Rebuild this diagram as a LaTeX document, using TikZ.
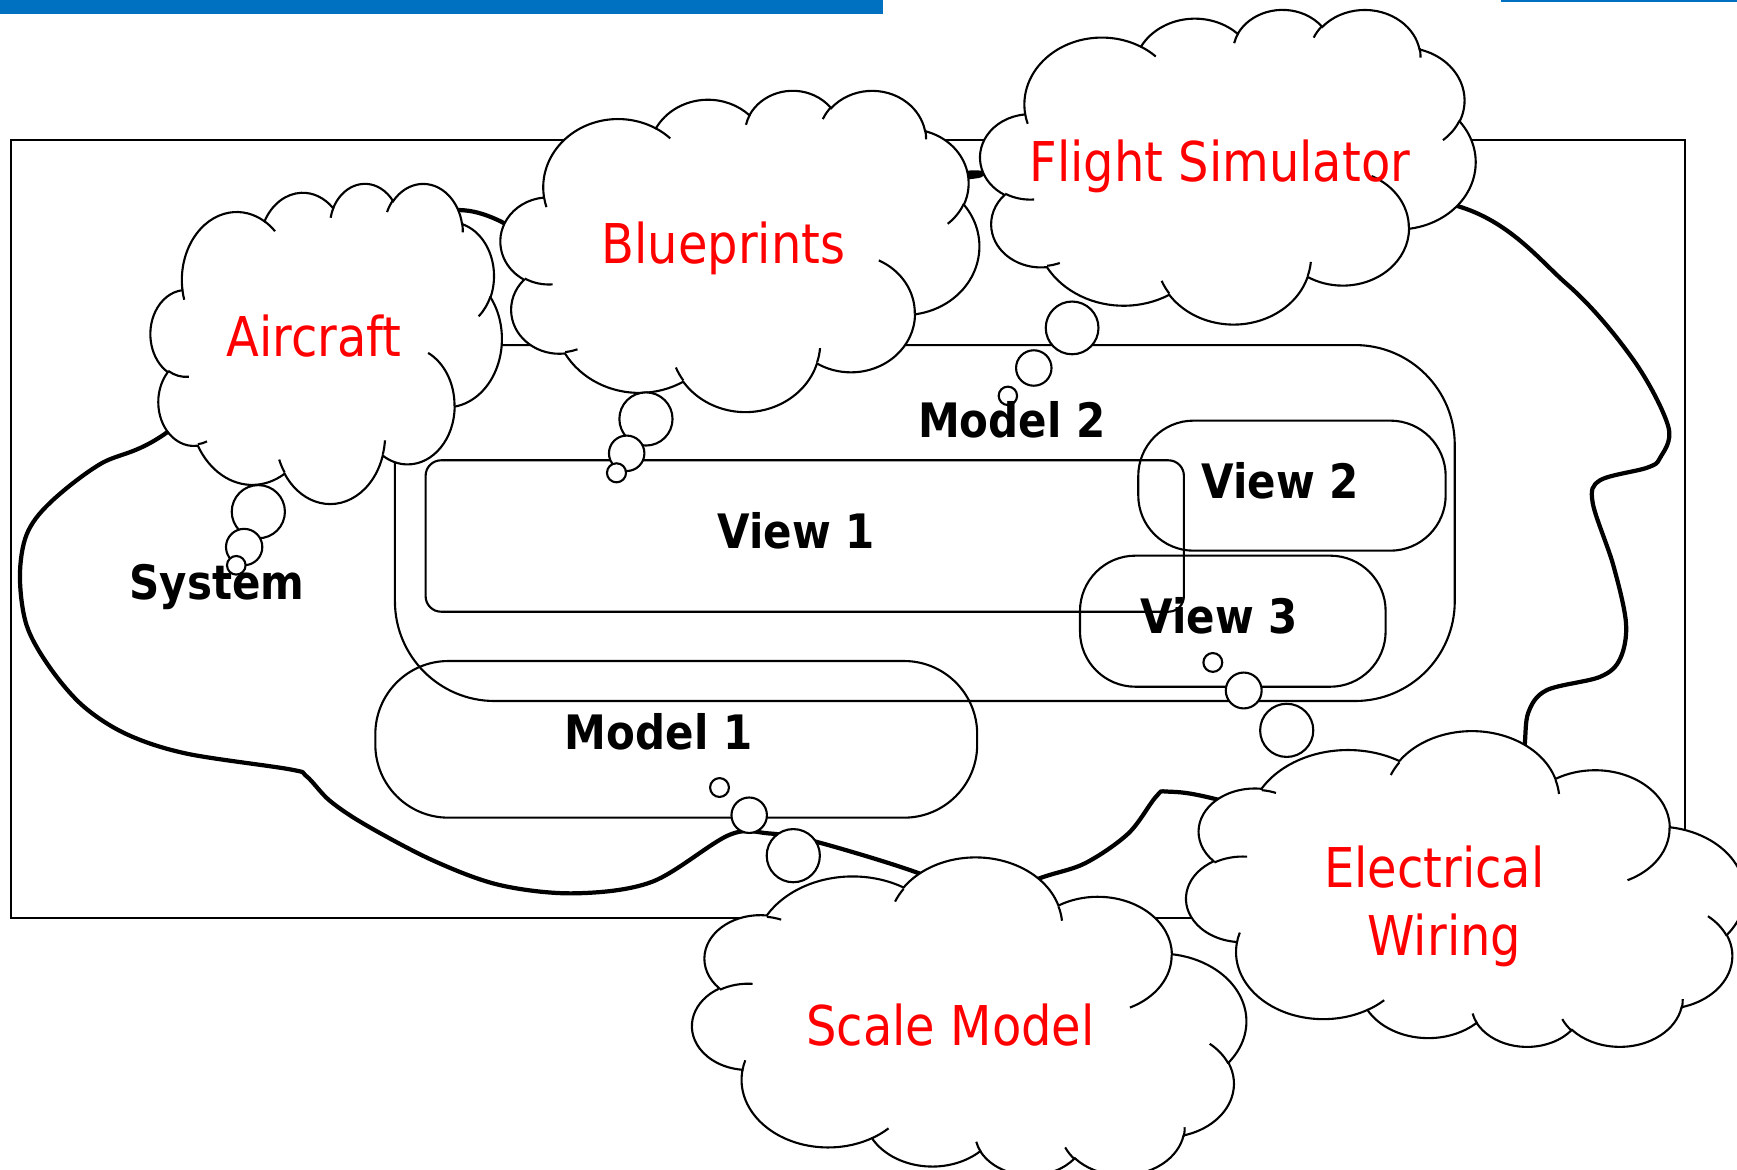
\documentclass[tikz,border=0pt]{standalone}
\usepackage{fontspec}
\newfontfamily\cloudface[FakeStretch=0.875]{DejaVu Sans}
\newfontfamily\boxface[FakeStretch=0.885]{DejaVu Sans Bold}
\definecolor{barblue}{RGB}{0,112,192}

% Elliptical arc given by radii and a start angle / sweep measured as the
% visual angle (y pointing down); converted to parametric angles for TikZ.
\newcommand\mkcarc[5]{%
  \pgfmathsetmacro\cldA{#4}%
  \pgfmathsetmacro\cldD{atan2((#2)*sin(\cldA),(#3)*cos(\cldA))-(\cldA)}%
  \pgfmathsetmacro\cldD{\cldD-360*round(\cldD/360)}%
  \pgfmathsetmacro\cldS{\cldA+\cldD}%
  \pgfmathsetmacro\cldB{(#4)+(#5)}%
  \pgfmathsetmacro\cldD{atan2((#2)*sin(\cldB),(#3)*cos(\cldB))-(\cldB)}%
  \pgfmathsetmacro\cldD{\cldD-360*round(\cldD/360)}%
  \pgfmathsetmacro\cldE{\cldB+\cldD}%
  \expandafter\xdef\csname #1\endcsname{arc[x radius=#2, y radius=#3, start angle=\cldS, end angle=\cldE]}%
}
% outline of the cloud (unit box)
\mkcarc{carcA}{0.156319}{0.212731}{-190.4875}{123.7805}
\mkcarc{carcB}{0.123449}{0.168218}{-144.1024}{89.9452}
\mkcarc{carcC}{0.101042}{0.137616}{-145.8079}{99.7230}
\mkcarc{carcD}{0.112431}{0.152662}{-130.9861}{117.2417}
\mkcarc{carcE}{0.123449}{0.168356}{-78.7089}{109.0269}
\mkcarc{carcF}{0.156829}{0.213426}{-46.2673}{130.2690}
\mkcarc{carcG}{0.133912}{0.182106}{0.6250}{114.0333}
\mkcarc{carcH}{0.156296}{0.213310}{22.4516}{115.1726}
\mkcarc{carcI}{0.178704}{0.244051}{66.2426}{75.7110}
\mkcarc{carcJ}{0.100926}{0.136991}{-274.9421}{146.7356}
\mkcarc{carcK}{0.100579}{0.137616}{-246.8285}{152.5189}
% inner puff strokes
\mkcarc{carcL}{0.100579}{0.137616}{86.7420}{26.4295}
\mkcarc{carcM}{0.100926}{0.136991}{73.6105}{11.4475}
\mkcarc{carcN}{0.156296}{0.213310}{137.6242}{14.0811}
\mkcarc{carcO}{0.156296}{0.213310}{6.4533}{15.9984}
\mkcarc{carcP}{0.133912}{0.182106}{-70.2924}{70.9174}
\mkcarc{carcQ}{0.123449}{0.168356}{30.3180}{27.7515}
\mkcarc{carcR}{0.112431}{0.152662}{-13.7443}{14.8589}
\mkcarc{carcS}{0.112431}{0.152662}{-149.1815}{18.1954}
\mkcarc{carcT}{0.101042}{0.137616}{-163.4943}{17.8495}
\mkcarc{carcU}{0.156319}{0.212731}{-66.7070}{12.3194}
\mkcarc{carcV}{0.156319}{0.212731}{157.6544}{11.8582}

% cloud drawn in the unit box, placed by the scope options given in #1
\newcommand\cloudbody[1]{%
  \begin{scope}[#1]
    \path[cloudshape] (0.090278,0.332639) \carcA \carcB \carcC \carcD \carcE
      \carcF \carcG \carcH \carcI \carcJ \carcK -- cycle;
    \draw[cloudstub] (0.108634,0.605949) \carcL (0.160370,0.807847) \carcM
      (0.381435,0.904861) \carcN (0.667292,0.804421) \carcO
      (0.790023,0.531343) \carcP (0.967546,0.355417) \carcQ
      (0.887130,0.125602) \carcR (0.673102,0.091481) \carcS
      (0.512523,0.109259) \carcT (0.324074,0.120185) \carcU
      (0.095532,0.365486) \carcV;
  \end{scope}}
% box with top-left corner (#1,#2), width #3, height #4
\newcommand\drawcloud[4]{\cloudbody{shift={(#1,#2)},xscale=#3,yscale=#4}}
% the same, upside down
\newcommand\drawcloudflip[4]{\cloudbody{shift={(#1,#2+#4)},xscale=#3,yscale=-#4}}

\begin{document}
\begin{tikzpicture}[x=0.011078cm,y=-0.011078cm,
  thinline/.style={line width=0.6pt,draw=black},
  blobline/.style={line width=1.2pt,draw=black},
  cloudshape/.style={line width=0.6pt,draw=black,fill=white},
  cloudstub/.style={line width=0.6pt,draw=black},
  bubble/.style={line width=0.6pt,draw=black,fill=white},
  redlabel/.style={text=red,inner sep=0pt,anchor=base,
    font=\cloudface\fontsize{15.6}{18}\selectfont},
  blacklabel/.style={text=black,inner sep=0pt,anchor=base,
    font=\boxface\fontsize{13.5}{16}\selectfont}]
\useasboundingbox (0,0) rectangle (1568,1056);
\clip (0,0) rectangle (1568,1056);

% title bar
\fill[barblue] (0,0) rectangle (797,12.6);
\fill[barblue] (1355,0) rectangle (1568,1.4);

% frame
\draw[thinline] (10,126.5) rectangle (1521,829);

% system boundary
\draw[blobline] plot[smooth cycle,tension=0.55] coordinates {
  (414.5,189.6) (452.5,200.1) (520,240) (660,175) (873.2,160) (887.7,155.9)
  (1100,165) (1315,185.8) (1414.2,256.3) (1474.4,324.8) (1506,385.3)
  (1498.5,413.4) (1486.5,422.3) (1444.3,433.6) (1437.7,453.8)
  (1456.3,510.2) (1467.8,562.6) (1462.4,594.8) (1444.3,611)
  (1396.2,623) (1379.6,643.2) (1376,675.4) (1370,712) (1250,765)
  (1100.7,722.2)
  (1054.4,714.6) (1043.5,719.2) (1018.6,752.3) (979.4,779.3)
  (938.3,792.9) (885,815) (829.5,788.3) (736.6,759.8) (693.8,752.3)
  (658,753.8) (588.9,795.9) (519.3,806.4) (451.4,799) (391.2,776.9)
  (331,745.2) (297.9,723) (276.8,700.8) (261.8,694.5) (168.5,680.3)
  (114.4,662.8) (75.2,637.5) (45.1,602.7) (24.1,564.7) (18,520.3)
  (24.1,482.4) (45.1,453.9) (90.3,419) (150.5,390.5) (280,285)
  (378,198)};

% models and views
\draw[thinline,rounded corners=0.997cm] (356.5,311.5) rectangle (1313.2,632.8);
\draw[thinline,rounded corners=0.155cm] (384.2,415.5) rectangle (1068.7,552.2);
\draw[thinline,rounded corners=0.554cm] (1027.5,379.7) rectangle (1305,497.1);
\draw[thinline,rounded corners=0.554cm] (974.9,501.6) rectangle (1250.8,619.9);
\draw[thinline,rounded corners=0.731cm] (338.8,596.7) rectangle (882.1,738.1);

% clouds
\drawcloud{136}{165}{317}{289}
\drawcloud{452}{81}{432}{290}
\drawcloud{885}{8}{447}{284}
\drawcloudflip{1071}{661}{504}{285}
\drawcloudflip{625}{775}{500}{287}

% thought bubbles
\draw[bubble] (233.2,461.9) circle[radius=24];
\draw[bubble] (220.4,493.8) circle[radius=16.4];
\draw[bubble] (213.3,510.3) circle[radius=8.4];

\draw[bubble] (583.1,378.2) circle[radius=24];
\draw[bubble] (565.7,409.2) circle[radius=16];
\draw[bubble] (556.5,426.8) circle[radius=8.6];

\draw[bubble] (967.8,296) circle[radius=23.8];
\draw[bubble] (933.2,332.2) circle[radius=16];
\draw[bubble] (909.8,357.3) circle[radius=8.3];

\draw[bubble] (1161.5,659.3) circle[radius=24];
\draw[bubble] (1122.7,623.3) circle[radius=16.2];
\draw[bubble] (1094.8,598) circle[radius=8.5];

\draw[bubble] (716.1,772.4) circle[radius=24];
\draw[bubble] (676.3,735.9) circle[radius=16];
\draw[bubble] (649.5,710.9) circle[radius=8.5];

% cloud texts
\node[redlabel] (aircraft) at (283.3,322) {Aircraft};
\node[redlabel] (blueprints) at (653,237.7) {Blueprints};
\node[redlabel] (flightsim) at (1101.1,164) {Flight Simulator};
\node[redlabel] (electrical) at (1294.8,801.3) {Electrical};
\node[redlabel] (wiring) at (1303.8,862.1) {Wiring};
\node[redlabel] (scalemodel) at (858,944.2) {Scale Model};

% box texts
\node[blacklabel] (system) at (195.9,540.9) {System};
\node[blacklabel] (model2) at (913.3,395.1) {Model 2};
\node[blacklabel] (view1) at (718.6,495) {View 1};
\node[blacklabel] (view2) at (1155.5,450.4) {View 2};
\node[blacklabel] (view3) at (1100.5,571.7) {View 3};
\node[blacklabel] (model1) at (594.6,677) {Model 1};
\end{tikzpicture}
\end{document}
